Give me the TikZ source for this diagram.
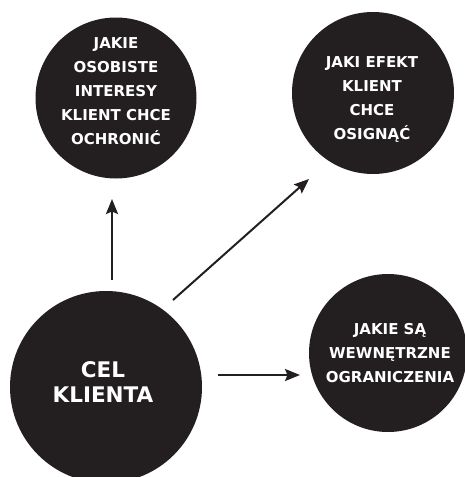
\documentclass[tikz,border=0pt]{standalone}
\usepackage{fontspec}
\setmainfont{DejaVu Sans}
\usetikzlibrary{arrows.meta}
\definecolor{ink}{HTML}{231F20}
\tikzset{
  disc/.style={circle, fill=ink, draw=none, inner sep=0pt},
  lbl/.style={text=white, align=center, font=\bfseries\fontsize{15}{24}\selectfont, inner sep=0pt},
  biglbl/.style={text=white, align=center, font=\bfseries\fontsize{21.5}{25}\selectfont, inner sep=0pt},
  link/.style={draw=ink, line width=2pt, -{Stealth[length=15pt, width=12pt, inset=2.5pt]}}
}
\begin{document}
\begin{tikzpicture}[x=1pt, y=-1pt]
  \useasboundingbox (0,0) rectangle (465,477);

  % discs
  \node[disc, minimum size=161pt] (interests) at (116,98) {};
  \node[disc, minimum size=162pt] (effect) at (373,93) {};
  \node[disc, minimum size=158pt] (limits) at (388,353) {};
  \node[disc, minimum size=192pt] (goal) at (106,387) {};

  % texts
  \node[lbl] (interestsT) at (116,91) {JAKIE\\OSOBISTE\\INTERESY\\KLIENT CHCE\\OCHRONIĆ};
  \node[lbl] (effectT) at (372,99) {JAKI EFEKT\\KLIENT\\CHCE\\OSIGNĄĆ};
  \node[lbl] (limitsT) at (390,353) {JAKIE SĄ\\WEWNĘTRZNE\\OGRANICZENIA};
  \node[biglbl] (goalT) at (103,382) {CEL\\KLIENTA};

  % arrow ends
  \coordinate (upS) at (112,280);
  \coordinate (upE) at (112,199);
  \coordinate (diagS) at (173,300);
  \coordinate (diagE) at (309,179);
  \coordinate (rightS) at (218,375);
  \coordinate (rightE) at (300,375);

  \draw[link] (upS) -- (upE);
  \draw[link] (diagS) -- (diagE);
  \draw[link] (rightS) -- (rightE);
\end{tikzpicture}
\end{document}
